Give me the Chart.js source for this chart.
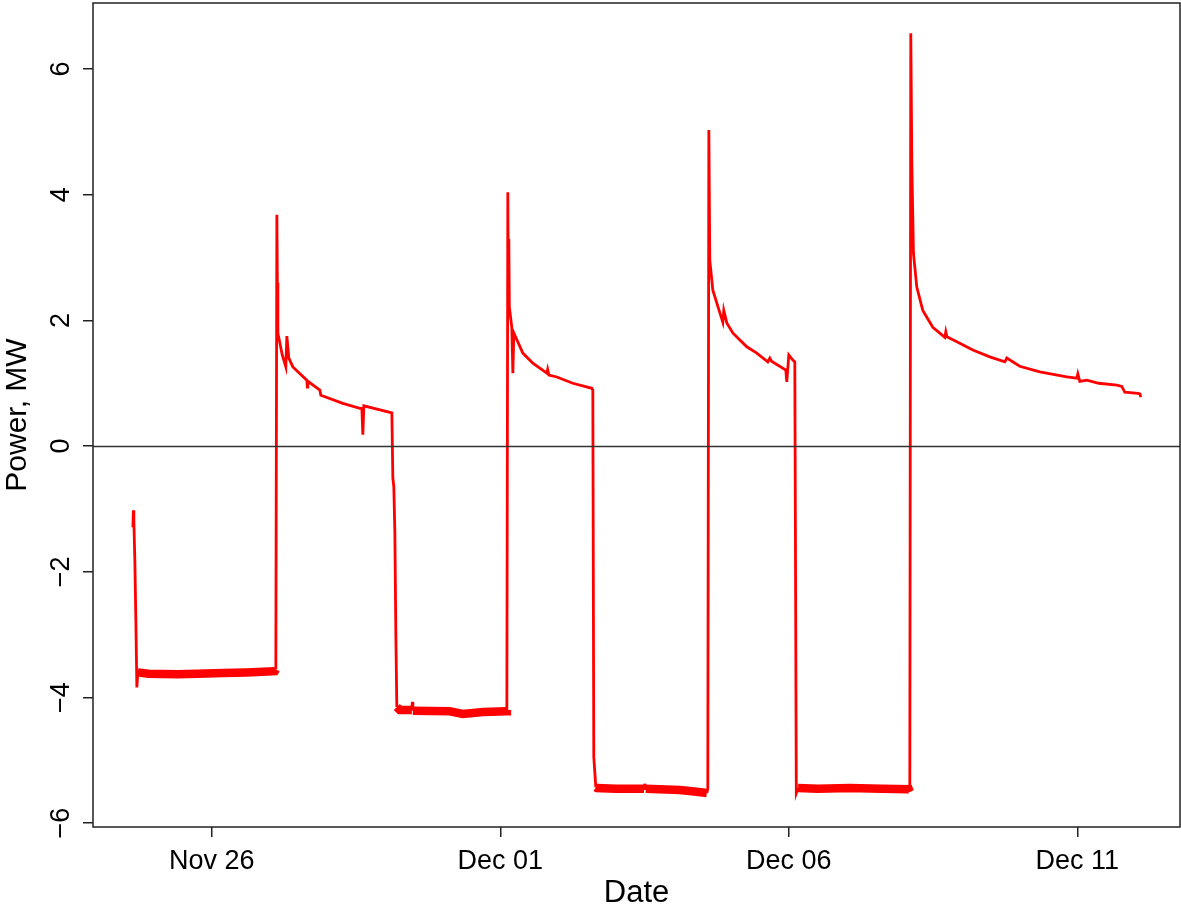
<!DOCTYPE html>
<html><head><meta charset="utf-8">
<script src="https://cdn.jsdelivr.net/npm/chart.js@4/dist/chart.umd.min.js"></script>
<style>html,body{margin:0;padding:0;background:#fff}#wrap{width:1181px;height:912px;position:relative}</style>
</head><body><div id="wrap"><canvas id="c"></canvas></div>
<script>
// time in days after Nov 26 00:00
const days = [
  -1.369,-1.360,-1.352,-1.335,-1.317,-1.300,-1.283,-1.10,-0.60,-0.25,0.20,0.60,1.092,
  1.109,1.127,1.135,1.144,1.22,1.282,1.300,1.334,1.404,1.646,1.655,1.664,1.872,1.889,2.270,2.565,2.600,2.617,2.634,3.120,
  3.137,3.154,3.172,3.189,3.206,3.258,3.466,3.475,3.484,4.125,4.350,4.700,5.100,5.113,
  5.130,5.139,5.147,5.156,5.199,5.217,5.234,5.390,5.563,5.806,5.820,5.841,5.979,6.256,6.586,6.603,
  6.620,6.655,6.672,7.000,7.490,7.504,7.520,8.111,8.400,8.579,
  8.596,8.614,8.630,8.683,8.856,8.873,8.925,9.029,9.272,9.445,9.636,9.671,9.700,9.948,9.965,10.000,10.069,10.104,
  10.130,10.160,10.500,11.057,11.600,12.080,12.097,
  12.114,12.132,12.149,12.160,12.218,12.322,12.496,12.704,12.721,12.740,12.912,13.189,13.484,13.744,13.778,14.003,
  14.350,14.818,14.991,15.009,15.043,15.165,15.373,15.685,15.771,15.823,16.049,16.085,16.101
];
const power = [
  -1.29,-1.02,-1.18,-1.81,-2.77,-3.84,-3.60,-3.62,-3.63,-3.62,-3.61,-3.60,-3.58,
  -3.55,3.68,2.60,1.80,1.45,1.26,1.75,1.40,1.26,1.05,0.94,1.03,0.89,0.81,0.68,0.60,0.60,0.18,0.64,0.53,
  -0.51,-0.65,-1.38,-2.98,-4.15,-4.20,-4.20,-4.07,-4.21,-4.22,-4.26,-4.23,-4.22,-4.20,
  4.04,2.30,3.30,2.21,1.89,1.16,1.80,1.48,1.32,1.16,1.22,1.13,1.10,1.00,0.92,0.89,
  -4.95,-5.43,-5.44,-5.45,-5.45,-5.37,-5.45,-5.47,-5.50,-5.52,
  -5.45,5.03,2.96,2.48,1.97,2.16,1.96,1.80,1.58,1.48,1.34,1.40,1.35,1.21,1.02,1.45,1.37,1.34,
  -5.52,-5.44,-5.45,-5.44,-5.45,-5.46,-5.50,
  6.57,4.50,3.65,3.07,2.53,2.16,1.89,1.73,1.82,1.74,1.66,1.53,1.42,1.34,1.40,1.27,
  1.18,1.10,1.08,1.15,1.03,1.05,1.00,0.97,0.95,0.86,0.84,0.83,0.78
];
const xTickValues = [0, 5, 10, 15];
const xTickLabels = ['Nov 26', 'Dec 01', 'Dec 06', 'Dec 11'];
const yTickValues = [-6, -4, -2, 0, 2, 4, 6];
const yTickLabels = ['\u22126', '\u22124', '\u22122', '0', '2', '4', '6'];
const xTitle = 'Date';
const yTitle = 'Power, MW';
const xRange = [-2.06, 16.78];
const yRange = [-6.06, 7.05];

const FONT = '"Liberation Sans", Arial, Helvetica, sans-serif';
Chart.defaults.font.family = FONT;
Chart.defaults.color = '#000';

const pts = days.map((d, i) => ({x: d, y: power[i]}));

const deco = {
  id: 'deco',
  afterDatasetsDraw(chart) {
    const {ctx, chartArea: a, scales: {x, y}} = chart;
    ctx.save();
    ctx.strokeStyle = '#333';
    ctx.lineWidth = 1.4;
    const y0 = Math.round(y.getPixelForValue(0)) + 0.5;
    ctx.beginPath(); ctx.moveTo(a.left, y0); ctx.lineTo(a.right, y0); ctx.stroke();
    ctx.restore();
  },
  afterDraw(chart) {
    const {ctx, chartArea: a, scales: {x, y}} = chart;
    ctx.save();
    ctx.strokeStyle = '#222';
    ctx.lineWidth = 1.5;
    ctx.strokeRect(a.left, a.top, a.right - a.left, a.bottom - a.top);
    ctx.fillStyle = '#000';
    ctx.textAlign = 'center';
    ctx.textBaseline = 'middle';
    ctx.font = '27px ' + FONT;
    yTickValues.forEach((v, i) => {
      const py = y.getPixelForValue(v);
      ctx.save(); ctx.translate(62, py); ctx.rotate(-Math.PI / 2);
      ctx.fillText(yTickLabels[i], 0, 0); ctx.restore();
    });
    ctx.font = '30px ' + FONT;
    ctx.save(); ctx.translate(18, (a.top + a.bottom) / 2); ctx.rotate(-Math.PI / 2);
    ctx.fillText(yTitle, 0, 0); ctx.restore();
    ctx.font = '31px ' + FONT;
    ctx.fillText(xTitle, (a.left + a.right) / 2, 893);
    ctx.restore();
  }
};

new Chart(document.getElementById('c'), {
  type: 'line',
  data: { datasets: [{
    data: pts,
    borderColor: '#ff0000',
    borderWidth: 2.8,
    pointRadius: 0,
    tension: 0,
    fill: false,
    segment: {
      borderWidth: ctx => (ctx.p0.parsed.y < -3.4 && ctx.p1.parsed.y < -3.4 &&
        Math.abs(ctx.p1.parsed.y - ctx.p0.parsed.y) < 0.065) ? 8.5 : 2.8
    }
  }]},
  options: {
    responsive: true,
    maintainAspectRatio: false,
    animation: false,
    events: [],
    layout: { padding: { top: 3, right: 1, left: 0, bottom: 0 } },
    plugins: { legend: { display: false }, tooltip: { enabled: false } },
    scales: {
      x: {
        type: 'linear', min: xRange[0], max: xRange[1],
        afterBuildTicks: s => { s.ticks = xTickValues.map(v => ({value: v})); },
        afterFit: s => { s.height = 85; },
        ticks: {
          autoSkip: false, maxRotation: 0, minRotation: 0, padding: 8,
          font: { size: 27 }, color: '#000',
          callback: v => xTickLabels[xTickValues.indexOf(v)]
        },
        grid: { drawOnChartArea: false, drawTicks: true, tickLength: 10, color: '#222', lineWidth: 1.5 },
        border: { display: false }
      },
      y: {
        type: 'linear', min: yRange[0], max: yRange[1],
        afterBuildTicks: s => { s.ticks = yTickValues.map(v => ({value: v})); },
        afterFit: s => { s.width = 93; },
        ticks: { display: false },
        grid: { drawOnChartArea: false, drawTicks: true, tickLength: 10, color: '#222', lineWidth: 1.5 },
        border: { display: false }
      }
    }
  },
  plugins: [deco]
});
</script>
</body></html>
